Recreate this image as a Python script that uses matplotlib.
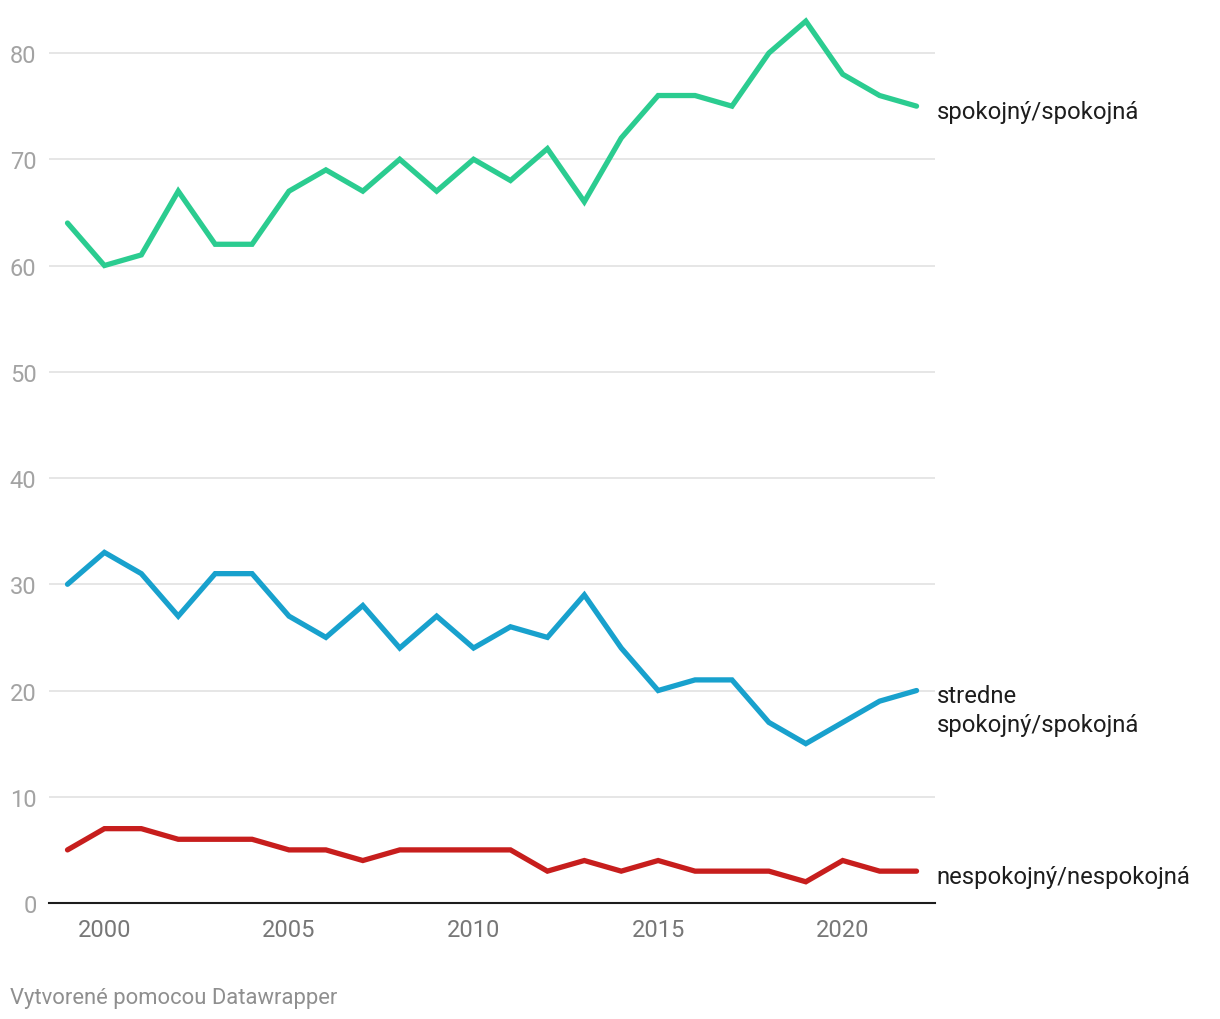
import matplotlib
matplotlib.use("Agg")
import matplotlib.pyplot as plt

plt.rcParams['font.family'] = ['Roboto', 'DejaVu Sans']

years = list(range(1999, 2023))
spokojny = [64, 60, 61, 67, 62, 62, 67, 69, 67, 70, 67, 70, 68, 71, 66, 72, 76, 76, 75, 80, 83, 78, 76, 75]
stredne = [30, 33, 31, 27, 31, 31, 27, 25, 28, 24, 27, 24, 26, 25, 29, 24, 20, 21, 21, 17, 15, 17, 19, 20]
nespokojny = [5, 7, 7, 6, 6, 6, 5, 5, 4, 5, 5, 5, 5, 3, 4, 3, 4, 3, 3, 3, 2, 4, 3, 3]

series = [
    (spokojny, "#2bcc90", "spokojný/spokojná"),
    (stredne, "#18a1cd", "stredne\nspokojný/spokojná"),
    (nespokojny, "#c71e1d", "nespokojný/nespokojná"),
]

fig = plt.figure(figsize=(12.2, 10.2), dpi=100)
ax = fig.add_axes([0.0402, 0.1137, 0.7262, 0.875])

for vals, col, lab in series:
    ax.plot(years, vals, color=col, lw=3.8, solid_capstyle='round',
            solid_joinstyle='miter', clip_on=False, zorder=3)
    if '\n' in lab:
        ax.text(2022.55, vals[-1] + 0.6, lab, fontsize=17.2, color="#1d1d1d",
                va='top', ha='left', linespacing=1.3)
    else:
        ax.text(2022.55, vals[-1] - 0.5, lab, fontsize=17.2, color="#1d1d1d",
                va='center', ha='left')

ax.set_xlim(1998.5, 2022.5)
ax.set_ylim(0, 84)
ax.set_yticks(range(0, 81, 10))
ax.set_xticks([2000, 2005, 2010, 2015, 2020])
ax.grid(axis='y', color='#e2e2e2', lw=1.2)
ax.set_axisbelow(True)
for s in ['top', 'right', 'left']:
    ax.spines[s].set_visible(False)
ax.spines['bottom'].set_color('#1d1d1d')
ax.spines['bottom'].set_linewidth(1.5)
ax.spines['bottom'].set_zorder(4)
ax.tick_params(axis='both', length=0)
ax.tick_params(axis='y', labelsize=17, labelcolor='#a3a3a3', pad=9)
ax.tick_params(axis='x', labelsize=17, labelcolor='#777777', pad=11)
# hide the zero gridline under the baseline
ax.get_ygridlines()[0].set_visible(False)

fig.text(0.008, 0.016, "Vytvorené pomocou Datawrapper", fontsize=15.8, color="#8f8f8f",
         ha='left', va='baseline')

fig.savefig("out.png", dpi=100)
